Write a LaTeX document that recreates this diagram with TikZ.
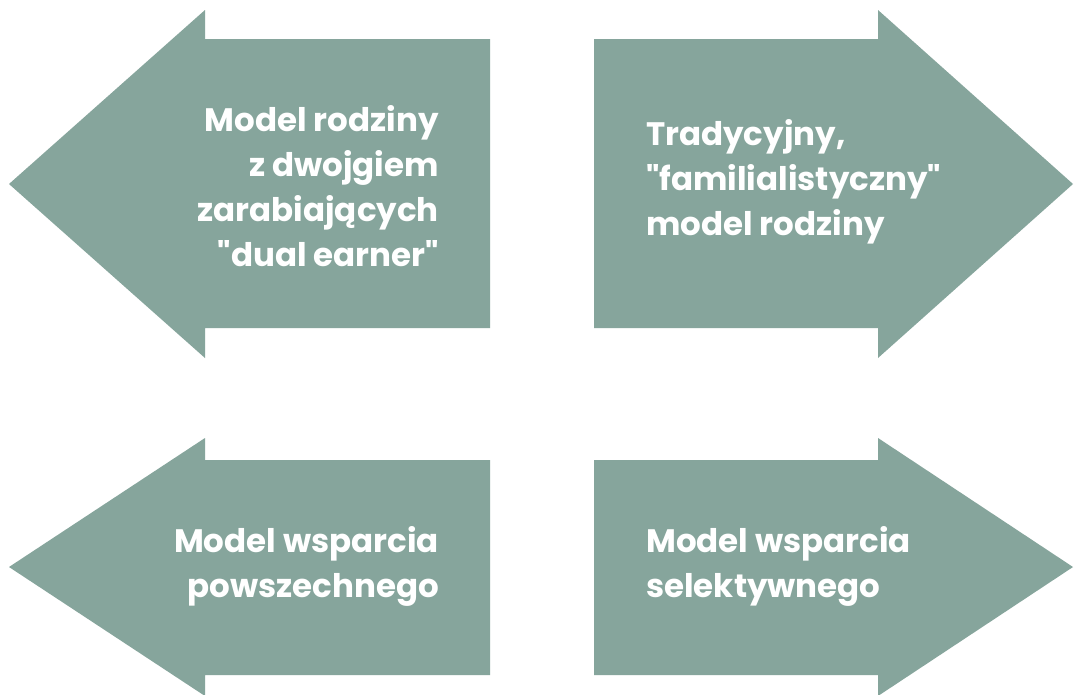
\documentclass[tikz,border=0pt]{standalone}
\usepackage{fontspec}
\setmainfont{Poppins}[Ligatures=TeXOff]
\definecolor{arrowfill}{RGB}{134,165,156}
\tikzset{
  arrowshape/.style={fill=arrowfill, draw=none},
  lbl/.style={text=white, font=\fontsize{32.5}{45}\selectfont\bfseries, inner sep=0pt},
}
\begin{document}
\begin{tikzpicture}[x=1pt,y=-1pt]
\useasboundingbox (0,0) rectangle (1074,694);
\clip (0,0) rectangle (1074,694);
\fill[white] (0,0) rectangle (1074,694);
% top-left arrow
\fill[arrowshape] (9,184) -- (205,10) -- (205,39) -- (490,39) -- (490,328) -- (205,328) -- (205,358) -- cycle;
% top-right arrow
\fill[arrowshape] (1073,184) -- (878,10) -- (878,39) -- (594,39) -- (594,328) -- (878,328) -- (878,358) -- cycle;
% bottom-left arrow
\fill[arrowshape] (9,567) -- (205,438) -- (205,460) -- (490,460) -- (490,675) -- (205,675) -- (205,696) -- cycle;
% bottom-right arrow
\fill[arrowshape] (1073,567) -- (878,438) -- (878,460) -- (594,460) -- (594,675) -- (878,675) -- (878,696) -- cycle;
\node[lbl, align=right, anchor=east] (tl) at (439,186) {Model rodziny\\z dwojgiem\\zarabiających\\"dual earner"};
\node[lbl, align=left, anchor=west] (tr) at (646,182) {Tradycyjny,\\"familialistyczny"\\model rodziny};
\node[lbl, align=right, anchor=east] (bl) at (439,566) {Model wsparcia\\powszechnego};
\node[lbl, align=left, anchor=west] (br) at (646,566) {Model wsparcia\\selektywnego};
\end{tikzpicture}
\end{document}
